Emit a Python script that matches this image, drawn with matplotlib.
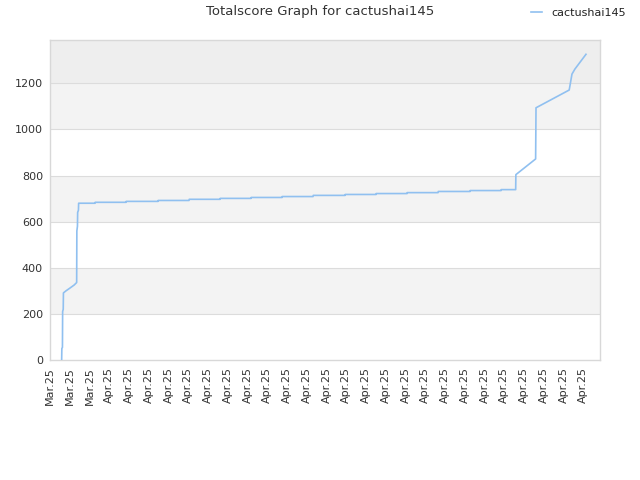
import matplotlib
matplotlib.use("Agg")
import matplotlib.pyplot as plt

# ---- data (x in tick-index units, y = total score) ----
tick_labels = ["Mar.25"] * 3 + ["Apr.25"] * 25
days = [0.59, 0.60, 0.63, 0.64, 0.67, 0.68, 0.81, 1.01, 1.22, 1.35, 1.36, 1.39, 1.40, 1.44, 1.45,
        2.28, 2.29, 3.85, 3.86, 5.47, 5.48, 7.04, 7.05, 8.61, 8.62, 10.18, 10.19, 11.75, 11.76,
        13.32, 13.33, 14.94, 14.95, 16.51, 16.52, 18.08, 18.09, 19.65, 19.66, 21.27, 21.28,
        22.84, 22.85, 23.58, 23.59, 24.59, 24.60, 24.61, 26.29, 26.35, 26.43, 26.58, 27.14]
score = [0, 50, 55, 210, 220, 291, 300, 312, 325, 336, 560, 580, 640, 650, 680,
         680, 684, 684, 688, 688, 692, 692, 697, 697, 701, 701, 705, 705, 709,
         709, 714, 714, 718, 718, 722, 722, 726, 726, 731, 731, 735,
         735, 739, 739, 804, 872, 978, 1094, 1171, 1200, 1240, 1262, 1326]
series_name = "cactushai145"
title = "Totalscore Graph for cactushai145"

fig = plt.figure(figsize=(6.4, 4.8), dpi=100)
ax = fig.add_axes([50 / 640, 120 / 480, 550 / 640, 320 / 480])

ymax = 1388
ax.set_ylim(0, ymax)
ax.set_xlim(0, 27.85)

# alternating bands
for lo, hi, c in [(200, 400, "#f3f3f3"), (600, 800, "#f3f3f3"), (1000, 1200, "#f3f3f3"), (1200, ymax, "#eeeeee")]:
    ax.axhspan(lo, hi, color=c, zorder=0, lw=0)

yt = [0, 200, 400, 600, 800, 1000, 1200]
ax.set_yticks(yt)
ax.set_yticklabels([str(v) for v in yt])
for v in yt[1:]:
    ax.axhline(v, color="#dcdcdc", lw=0.8, zorder=1)

ax.plot(days, score, color="#90c0f0", lw=1.2, zorder=3, label=series_name)

ax.set_xticks(range(len(tick_labels)))
ax.set_xticklabels(tick_labels, rotation=90)
ax.tick_params(axis="both", length=0, labelsize=8, colors="#333333", pad=5)

for s in ax.spines.values():
    s.set_color("#d8d8d8")
    s.set_linewidth(1)

fig.text(0.5, 1 - 12 / 480, title, ha="center", va="center", fontsize=9.5, color="#333333")
leg = ax.legend(loc="center left", bbox_to_anchor=(525 / 640, 1 - 13 / 480), bbox_transform=fig.transFigure,
                frameon=False, fontsize=8, handlelength=1.0, handletextpad=0.9, borderpad=0)
for t in leg.get_texts():
    t.set_color("#222222")

fig.savefig("out.png", dpi=100)
